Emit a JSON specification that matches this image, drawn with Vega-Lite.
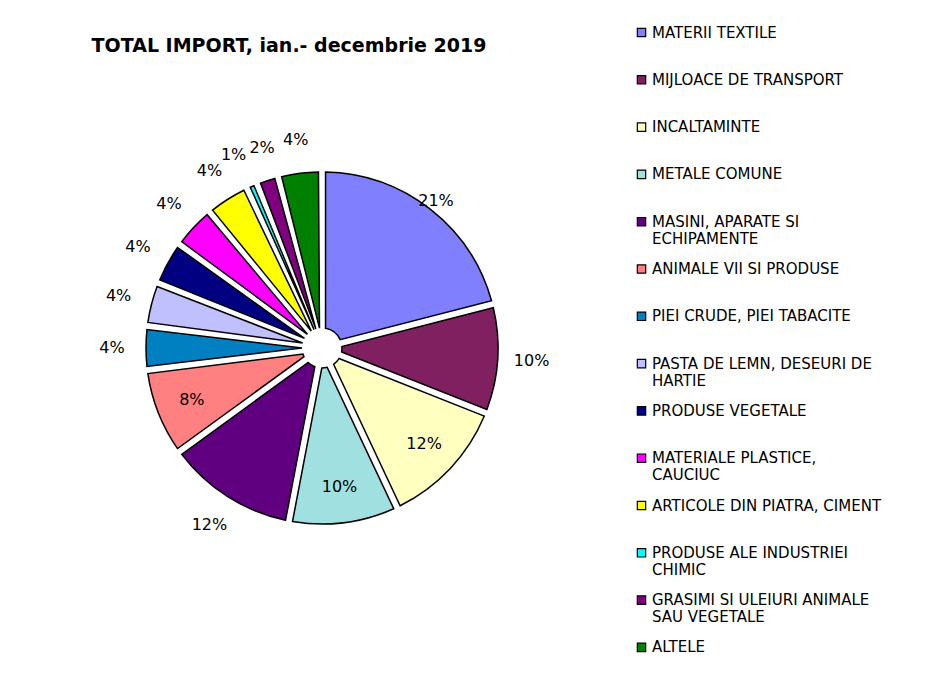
{
  "$schema": "https://vega.github.io/schema/vega-lite/v6.json",
  "width": 644,
  "height": 664,
  "autosize": "none",
  "padding": {"left": 0, "top": 16, "right": 299, "bottom": 0},
  "background": "white",
  "config": {"view": {"stroke": null}, "font": "DejaVu Sans"},
  "title": {
    "text": "TOTAL IMPORT, ian.- decembrie 2019",
    "font": "DejaVu Sans",
    "fontSize": 19,
    "fontWeight": "bold",
    "color": "black",
    "anchor": "middle",
    "dx": -33,
    "dy": 44
  },
  "data": {
    "values": [
      {"idx": 1, "cat": "MATERII TEXTILE", "share": 0.21},
      {"idx": 2, "cat": "MIJLOACE DE TRANSPORT", "share": 0.10},
      {"idx": 3, "cat": "INCALTAMINTE", "share": 0.12},
      {"idx": 4, "cat": "METALE COMUNE", "share": 0.10},
      {"idx": 5, "cat": "MASINI, APARATE SI ECHIPAMENTE", "share": 0.12},
      {"idx": 6, "cat": "ANIMALE VII SI PRODUSE", "share": 0.08},
      {"idx": 7, "cat": "PIEI CRUDE, PIEI TABACITE", "share": 0.04},
      {"idx": 8, "cat": "PASTA DE LEMN, DESEURI DE HARTIE", "share": 0.04},
      {"idx": 9, "cat": "PRODUSE VEGETALE", "share": 0.04},
      {"idx": 10, "cat": "MATERIALE PLASTICE, CAUCIUC", "share": 0.04},
      {"idx": 11, "cat": "ARTICOLE DIN PIATRA, CIMENT", "share": 0.04},
      {"idx": 12, "cat": "PRODUSE ALE INDUSTRIEI CHIMIC", "share": 0.01},
      {"idx": 13, "cat": "GRASIMI SI ULEIURI ANIMALE SAU VEGETALE", "share": 0.02},
      {"idx": 14, "cat": "ALTELE", "share": 0.04}
    ]
  },
  "encoding": {
    "theta": {"field": "share", "type": "quantitative", "stack": true},
    "order": {"field": "idx", "type": "quantitative"}
  },
  "layer": [
    {
      "mark": {"type": "arc", "outerRadius": 176, "innerRadius": 20, "padAngle": 0.04, "stroke": "black", "strokeWidth": 1.5},
      "encoding": {
        "color": {
          "field": "cat",
          "type": "nominal",
          "scale": {
            "domain": ["MATERII TEXTILE", "MIJLOACE DE TRANSPORT", "INCALTAMINTE", "METALE COMUNE", "MASINI, APARATE SI ECHIPAMENTE", "ANIMALE VII SI PRODUSE", "PIEI CRUDE, PIEI TABACITE", "PASTA DE LEMN, DESEURI DE HARTIE", "PRODUSE VEGETALE", "MATERIALE PLASTICE, CAUCIUC", "ARTICOLE DIN PIATRA, CIMENT", "PRODUSE ALE INDUSTRIEI CHIMIC", "GRASIMI SI ULEIURI ANIMALE SAU VEGETALE", "ALTELE"],
            "range": ["#8080FF", "#802060", "#FFFFC0", "#A0E0E0", "#600080", "#FF8080", "#0080C0", "#C0C0FF", "#000080", "#FF00FF", "#FFFF00", "#00FFFF", "#800080", "#008000"]
          },
          "legend": {
            "orient": "none",
            "legendX": 634,
            "legendY": 9,
            "title": null,
            "direction": "vertical",
            "padding": 0,
            "rowPadding": 14.3,
            "gridAlign": "all",
            "labelFont": "DejaVu Sans",
            "labelFontSize": 15,
            "labelColor": "black",
            "labelLimit": 300,
            "labelOffset": 3,
            "labelBaseline": "middle",
            "symbolType": "square",
            "symbolSize": 70,
            "symbolStrokeColor": "black",
            "symbolStrokeWidth": 1.2,
            "labelExpr": "datum.label == 'MASINI, APARATE SI ECHIPAMENTE' ? ['MASINI, APARATE SI', 'ECHIPAMENTE'] : datum.label == 'PASTA DE LEMN, DESEURI DE HARTIE' ? ['PASTA DE LEMN, DESEURI DE', 'HARTIE'] : datum.label == 'MATERIALE PLASTICE, CAUCIUC' ? ['MATERIALE PLASTICE,', 'CAUCIUC'] : datum.label == 'PRODUSE ALE INDUSTRIEI CHIMIC' ? ['PRODUSE ALE INDUSTRIEI', 'CHIMIC'] : datum.label == 'GRASIMI SI ULEIURI ANIMALE SAU VEGETALE' ? ['GRASIMI SI ULEIURI ANIMALE', 'SAU VEGETALE'] : datum.label"
          }
        }
      }
    },
    {
      "mark": {"type": "text", "radius": 210, "font": "DejaVu Sans", "fontSize": 16, "fill": "black"},
      "encoding": {
        "text": {
          "condition": {
            "test": "indexof(['INCALTAMINTE', 'METALE COMUNE', 'ANIMALE VII SI PRODUSE', 'MATERII TEXTILE', 'PRODUSE ALE INDUSTRIEI CHIMIC', 'GRASIMI SI ULEIURI ANIMALE SAU VEGETALE'], datum.cat) < 0",
            "field": "share",
            "type": "quantitative",
            "format": ".0%"
          },
          "value": ""
        }
      }
    },
    {
      "mark": {"type": "text", "radius": 210, "dx": -5, "font": "DejaVu Sans", "fontSize": 16, "fill": "black"},
      "encoding": {
        "text": {
          "condition": {
            "test": "datum.cat == 'PRODUSE ALE INDUSTRIEI CHIMIC'",
            "field": "share",
            "type": "quantitative",
            "format": ".0%"
          },
          "value": ""
        }
      }
    },
    {
      "mark": {"type": "text", "radius": 210, "dx": 5, "font": "DejaVu Sans", "fontSize": 16, "fill": "black"},
      "encoding": {
        "text": {
          "condition": {
            "test": "datum.cat == 'GRASIMI SI ULEIURI ANIMALE SAU VEGETALE'",
            "field": "share",
            "type": "quantitative",
            "format": ".0%"
          },
          "value": ""
        }
      }
    },
    {
      "mark": {"type": "text", "radius": 140, "font": "DejaVu Sans", "fontSize": 16, "fill": "black"},
      "encoding": {
        "text": {
          "condition": {
            "test": "indexof(['INCALTAMINTE', 'METALE COMUNE', 'ANIMALE VII SI PRODUSE'], datum.cat) >= 0",
            "field": "share",
            "type": "quantitative",
            "format": ".0%"
          },
          "value": ""
        }
      }
    },
    {
      "mark": {"type": "text", "radius": 186, "font": "DejaVu Sans", "fontSize": 16, "fill": "black"},
      "encoding": {
        "text": {
          "condition": {
            "test": "datum.cat == 'MATERII TEXTILE'",
            "field": "share",
            "type": "quantitative",
            "format": ".0%"
          },
          "value": ""
        }
      }
    }
  ]
}
